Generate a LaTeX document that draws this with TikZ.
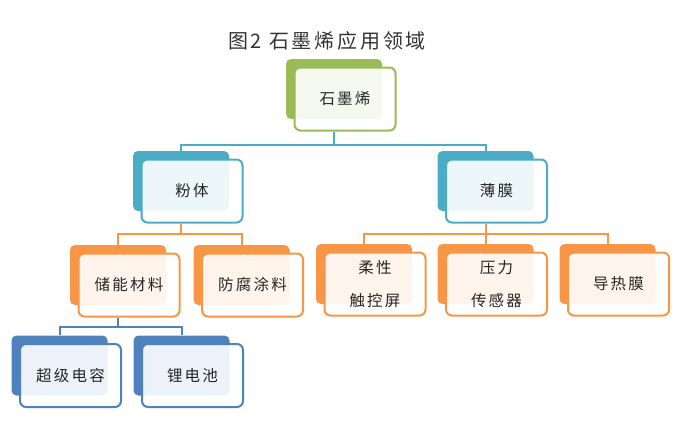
\documentclass[tikz,border=0pt]{standalone}
\usepackage{fontspec}
\usepackage{xcolor}
\newfontfamily\cjk[LetterSpace=14]{Noto Sans CJK SC}
\usetikzlibrary{calc,positioning}
\definecolor{leafgreen}{HTML}{9BBB59}
\definecolor{aqua}{HTML}{4BACC6}
\definecolor{tangerine}{HTML}{F79646}
\definecolor{steel}{HTML}{4F81BD}

\begin{document}
\begin{tikzpicture}[x=1pt,y=-1pt,
    backbox/.style={rectangle,rounded corners=5pt,minimum width=96pt,minimum height=60pt,inner sep=0pt},
    frontbox/.style={rectangle,rounded corners=6pt,minimum width=101pt,minimum height=63pt,
      fill=white,fill opacity=0.9,text opacity=1,line width=2pt,inner sep=0pt,
      font=\cjk\fontsize{15.5}{33}\selectfont,text=black!85,align=center},
    link/.style={line width=2pt}]
    \useasboundingbox (0,0) rectangle (700,423);
    % title
    \node[font=\cjk\fontsize{20}{22}\selectfont,text=black!80] (title) at (327,41) {图2 石墨烯应用领域};
    % root
    \node[backbox,fill=leafgreen] (root) at (334,89) {};
    \node[frontbox,draw=leafgreen] (root-f) at ($(root)+(11,10)$) {石墨烯};
    % first level
    \node[backbox,fill=aqua] (fenti) at (181,181) {};
    \node[frontbox,draw=aqua] (fenti-f) at ($(fenti)+(11,10)$) {粉体};
    \node[backbox,fill=aqua] (bomo) at (485.5,181) {};
    \node[frontbox,draw=aqua] (bomo-f) at ($(bomo)+(11,10)$) {薄膜};
    % second level
    \node[backbox,fill=tangerine] (chuneng) at (118,275) {};
    \node[frontbox,draw=tangerine] (chuneng-f) at ($(chuneng)+(11,10)$) {储能材料};
    \node[backbox,fill=tangerine] (fangfu) at (241.5,275) {};
    \node[frontbox,draw=tangerine] (fangfu-f) at ($(fangfu)+(11,10)$) {防腐涂料};
    \node[backbox,fill=tangerine] (rouxing) at (364,274) {};
    \node[frontbox,draw=tangerine] (rouxing-f) at ($(rouxing)+(11,10)$) {柔性\\触控屏};
    \node[backbox,fill=tangerine] (yali) at (485.5,274) {};
    \node[frontbox,draw=tangerine] (yali-f) at ($(yali)+(11,10)$) {压力\\传感器};
    \node[backbox,fill=tangerine] (daore) at (607.5,274) {};
    \node[frontbox,draw=tangerine] (daore-f) at ($(daore)+(11,10)$) {导热膜};
    % third level
    \node[backbox,fill=steel] (chaoji) at (59.5,365.5) {};
    \node[frontbox,draw=steel] (chaoji-f) at ($(chaoji)+(11,10)$) {超级电容};
    \node[backbox,fill=steel] (lidian) at (181.5,365.5) {};
    \node[frontbox,draw=steel] (lidian-f) at ($(lidian)+(11,10)$) {锂电池};
    % connectors
    \draw[link,aqua] (root-f.south -| root) -- ++(0,13) -| (fenti.north);
    \draw[link,aqua] (root-f.south -| root) -- ++(0,13) -| (bomo.north);
    \draw[link,tangerine] (fenti-f.south -| fenti) -- ++(0,10) -| (chuneng.north);
    \draw[link,tangerine] (fenti-f.south -| fenti) -- ++(0,10) -| (fangfu.north);
    \draw[link,tangerine] (bomo-f.south -| bomo) -- ++(0,10) -| (rouxing.north);
    \draw[link,tangerine] (bomo-f.south -| bomo) -- ++(0,10) -| (yali.north);
    \draw[link,tangerine] (bomo-f.south -| bomo) -- ++(0,10) -| (daore.north);
    \draw[link,steel] (chuneng-f.south -| chuneng) -- ++(0,9) -| (chaoji.north);
    \draw[link,steel] (chuneng-f.south -| chuneng) -- ++(0,9) -| (lidian.north);
\end{tikzpicture}
\end{document}
